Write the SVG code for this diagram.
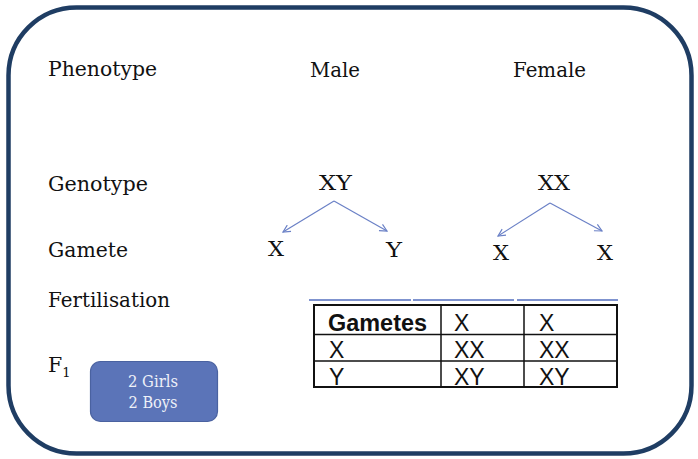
<svg xmlns="http://www.w3.org/2000/svg" width="698" height="459" viewBox="0 0 698 459">
<defs>
<style>
.lbl{font-family:"DejaVu Serif","Liberation Serif",serif;font-size:20.5px;fill:#111}
.tbl{font-family:"Liberation Sans",Arial,sans-serif;font-size:23px;fill:#111}
.conn{stroke:#6a80c6;stroke-width:1.2;fill:none}
.grid{stroke:#111;stroke-width:1.5;fill:none}
</style>
<marker id="ah" viewBox="0 0 10 10" refX="9" refY="5" markerWidth="9" markerHeight="9" markerUnits="userSpaceOnUse" orient="auto">
<path d="M1,1 L9,5 L1,9" fill="none" stroke="#6a80c6" stroke-width="1.3"/>
</marker>
</defs>
<rect width="698" height="459" fill="#fff"/>
<rect id="frame" x="8.5" y="7.5" width="683" height="446" rx="68" ry="68" fill="#fff" stroke="#1f3d63" stroke-width="4.5"/>
<g id="labels">
<text class="lbl" x="48" y="76" textLength="109" lengthAdjust="spacingAndGlyphs">Phenotype</text>
<text class="lbl" x="48" y="191" textLength="100" lengthAdjust="spacingAndGlyphs">Genotype</text>
<text class="lbl" x="48" y="257" textLength="80" lengthAdjust="spacingAndGlyphs">Gamete</text>
<text class="lbl" x="48" y="307" textLength="122" lengthAdjust="spacingAndGlyphs">Fertilisation</text>
<text class="lbl" x="48" y="372">F<tspan font-size="13" dy="5">1</tspan></text>
</g>
<g id="male">
<text class="lbl" x="310" y="77" textLength="50" lengthAdjust="spacingAndGlyphs">Male</text>
<text class="lbl" x="319" y="190" textLength="33" lengthAdjust="spacingAndGlyphs">XY</text>
</g>
<g id="female">
<text class="lbl" x="513" y="77" textLength="73" lengthAdjust="spacingAndGlyphs">Female</text>
<text class="lbl" x="538" y="190" textLength="32" lengthAdjust="spacingAndGlyphs">XX</text>
</g>
<g id="gametes">
<text class="lbl" x="268" y="256" textLength="16" lengthAdjust="spacingAndGlyphs">X</text>
<text class="lbl" x="386" y="257" textLength="16" lengthAdjust="spacingAndGlyphs">Y</text>
<text class="lbl" x="493" y="260" textLength="16" lengthAdjust="spacingAndGlyphs">X</text>
<text class="lbl" x="597" y="260" textLength="16" lengthAdjust="spacingAndGlyphs">X</text>
</g>
<g id="connectors">
<line class="conn" x1="334" y1="201" x2="283" y2="232" marker-end="url(#ah)"/>
<line class="conn" x1="334" y1="201" x2="387" y2="231" marker-end="url(#ah)"/>
<line class="conn" x1="550" y1="203" x2="498" y2="236" marker-end="url(#ah)"/>
<line class="conn" x1="550" y1="203" x2="602" y2="231" marker-end="url(#ah)"/>
</g>
<g id="punnett">
<g stroke="#7f93cf" stroke-width="2">
<line x1="309" y1="300" x2="411" y2="300"/>
<line x1="413" y1="300" x2="514" y2="300"/>
<line x1="517" y1="300" x2="618" y2="300"/>
</g>
<rect x="314" y="305" width="303" height="82" fill="#fff" stroke="#111" stroke-width="2"/>
<line class="grid" x1="314" y1="334.5" x2="617" y2="334.5"/>
<line class="grid" x1="314" y1="361" x2="617" y2="361"/>
<line class="grid" x1="441" y1="305" x2="441" y2="387"/>
<line class="grid" x1="524" y1="305" x2="524" y2="387"/>
<text class="tbl" x="328" y="331" font-weight="bold" textLength="99" lengthAdjust="spacingAndGlyphs">Gametes</text>
<text class="tbl" x="454" y="331">X</text>
<text class="tbl" x="539" y="331">X</text>
<text class="tbl" x="329" y="358">X</text>
<text class="tbl" x="454" y="358">XX</text>
<text class="tbl" x="539" y="358">XX</text>
<text class="tbl" x="329" y="385">Y</text>
<text class="tbl" x="454" y="385">XY</text>
<text class="tbl" x="539" y="385">XY</text>
</g>
<g id="f1box">
<rect x="90.5" y="361.5" width="127" height="60" rx="10" ry="10" fill="#5b74b8" stroke="#4a62a0" stroke-width="1.2"/>
<text x="153" y="387" text-anchor="middle" font-family="DejaVu Serif, Liberation Serif, serif" font-size="16" fill="#eef1f8" textLength="50" lengthAdjust="spacingAndGlyphs">2 Girls</text>
<text x="153" y="408" text-anchor="middle" font-family="DejaVu Serif, Liberation Serif, serif" font-size="16" fill="#eef1f8" textLength="49" lengthAdjust="spacingAndGlyphs">2 Boys</text>
</g>
</svg>
